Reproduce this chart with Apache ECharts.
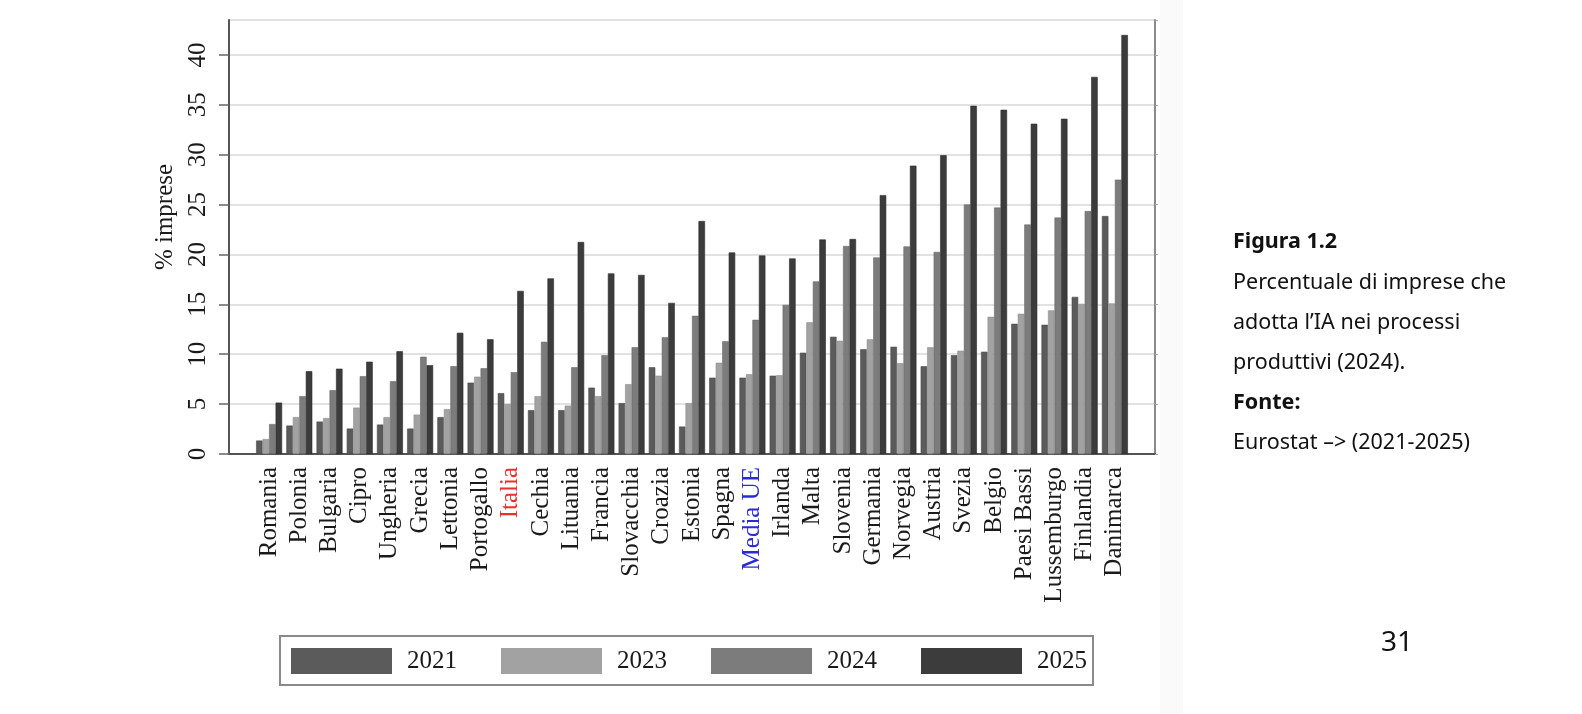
<!DOCTYPE html>
<html>
<head>
<meta charset="utf-8">
<script src="https://cdn.jsdelivr.net/npm/echarts@6/dist/echarts.min.js"></script>
<style>
  html, body { margin: 0; padding: 0; background: #ffffff; }
  #chart { width: 1582px; height: 714px; }
</style>
</head>
<body>
<div id="chart"></div>
<script>
// ---- Data ----
const countries = ['Romania','Polonia','Bulgaria','Cipro','Ungheria','Grecia','Lettonia','Portogallo','Italia','Cechia','Lituania','Francia','Slovacchia','Croazia','Estonia','Spagna','Media UE','Irlanda','Malta','Slovenia','Germania','Norvegia','Austria','Svezia','Belgio','Paesi Bassi','Lussemburgo','Finlandia','Danimarca'];
const years = ['2021', '2023', '2024', '2025'];
const v2021 = [1.35, 2.85, 3.25, 2.55, 2.95, 2.55, 3.7, 7.15, 6.1, 4.4, 4.4, 6.65, 5.1, 8.7, 2.75, 7.65, 7.65, 7.85, 10.15, 11.75, 10.5, 10.75, 8.8, 9.9, 10.25, 13.05, 12.95, 15.75, 23.85];
const v2023 = [1.5, 3.7, 3.6, 4.65, 3.7, 3.95, 4.5, 7.75, 5.0, 5.8, 4.85, 5.8, 7.0, 7.85, 5.1, 9.15, 8.0, 7.9, 13.2, 11.35, 11.5, 9.1, 10.7, 10.35, 13.75, 14.05, 14.4, 15.05, 15.1];
const v2024 = [3.0, 5.8, 6.4, 7.8, 7.3, 9.75, 8.8, 8.6, 8.2, 11.25, 8.7, 9.9, 10.7, 11.7, 13.85, 11.3, 13.45, 14.95, 17.3, 20.85, 19.7, 20.8, 20.25, 25.0, 24.7, 23.0, 23.7, 24.35, 27.5];
const v2025 = [5.15, 8.3, 8.55, 9.25, 10.3, 8.9, 12.15, 11.5, 16.35, 17.6, 21.25, 18.1, 17.95, 15.15, 23.35, 20.2, 19.9, 19.6, 21.5, 21.55, 25.95, 28.9, 29.95, 34.9, 34.5, 33.1, 33.6, 37.8, 42.0];
const yTicks = { min: 0, max: 43.5, interval: 5 };
const yName = '% imprese';
const sideTitle = 'Figura 1.2';
const sideLines = ['Percentuale di imprese che', 'adotta l\u2019IA nei processi', 'produttivi (2024).'];
const sourceTitle = 'Fonte:';
const sourceText = 'Eurostat \u2013> (2021-2025)';
const pageNumber = '31';

const seriesValues = [v2021, v2023, v2024, v2025];
const seriesColors = ['#5b5b5b', '#a2a2a2', '#7c7c7c', '#3c3c3c'];
const borderColors = ['#4a4a4a', '#8e8e8e', '#696969', '#2c2c2c'];
const serif = '"Liberation Serif", "Times New Roman", serif';
const sans = '"Noto Sans", "Open Sans", sans-serif';

const chart = echarts.init(document.getElementById('chart'), null, { renderer: 'canvas' });

const series = years.map((y, i) => ({
  name: y,
  type: 'bar',
  xAxisIndex: 1,
  yAxisIndex: 2,
  data: seriesValues[i],
  barGap: '0%',
  barCategoryGap: '14%',
  itemStyle: { color: seriesColors[i], borderColor: borderColors[i], borderWidth: 0.6 },
  emphasis: { disabled: true },
  animation: false
}));

const option = {
  backgroundColor: '#ffffff',
  animation: false,
  textStyle: { fontFamily: serif },
  grid: [
    { left: 229, right: 427, top: 20, bottom: 260, containLabel: false },
    { left: 254, right: 452, top: 20, bottom: 260, containLabel: false }
  ],
  xAxis: [
    { gridIndex: 0, type: 'value', min: 0, max: 1,
      axisLine: { show: true, lineStyle: { color: '#555555', width: 2 } },
      axisTick: { show: false }, axisLabel: { show: false }, splitLine: { show: false } },
    { gridIndex: 1, type: 'category', data: countries,
      axisLine: { show: false }, axisTick: { show: false },
      axisLabel: {
        interval: 0, hideOverlap: false,
        rotate: 90, margin: 13, fontSize: 25, fontFamily: serif,
        color: (val) => val === 'Italia' ? '#e8302c' : (val === 'Media UE' ? '#2a2ad6' : '#1a1a1a')
      } }
  ],
  yAxis: [
    { gridIndex: 0, type: 'value', min: yTicks.min, max: yTicks.max, interval: yTicks.interval,
      name: yName, nameLocation: 'middle', nameGap: 47,
      nameTextStyle: { fontSize: 25, fontFamily: serif, color: '#1a1a1a', padding: [0, 0, 0, 40] },
      axisLine: { show: true, lineStyle: { color: '#555555', width: 2 } },
      axisTick: { show: true, length: 10, lineStyle: { color: '#666666', width: 1.5 } },
      axisLabel: { rotate: 90, margin: 18, fontSize: 25, fontFamily: serif, color: '#1a1a1a', showMaxLabel: false },
      splitLine: { show: true, lineStyle: { color: '#e2e2e2', width: 2 } } },
    { gridIndex: 0, type: 'value', position: 'right', min: yTicks.min, max: yTicks.max, interval: yTicks.interval,
      axisLine: { show: true, lineStyle: { color: '#8a8a8a', width: 2 } },
      axisTick: { show: true, length: 3, lineStyle: { color: '#aaaaaa', width: 1 } },
      axisLabel: { show: false }, splitLine: { show: false } },
    { gridIndex: 1, type: 'value', min: yTicks.min, max: yTicks.max, interval: yTicks.interval, show: false }
  ],
  legend: {
    show: true,
    data: years,
    orient: 'horizontal',
    left: 280, top: 636,
    padding: [12, 6, 11, 11],
    itemWidth: 101, itemHeight: 26, itemGap: 44,
    icon: 'rect',
    borderColor: '#8a8a8a', borderWidth: 2,
    itemStyle: { borderWidth: 0 },
    textStyle: { fontSize: 25, fontFamily: serif, color: '#1a1a1a', padding: [0, 0, 0, 10] },
    selectedMode: false
  },
  graphic: [
    { type: 'rect', shape: { x: 1160, y: 0, width: 23, height: 714 }, style: { fill: '#fafafa' }, silent: true, z: -10 },
    { type: 'text', left: 1233, top: 231, style: { text: sideTitle, font: 'bold 21.5px ' + sans, fill: '#111111' } },
    { type: 'text', left: 1233, top: 272, style: { text: sideLines[0], font: '21.5px ' + sans, fill: '#111111' } },
    { type: 'text', left: 1233, top: 312, style: { text: sideLines[1], font: '21.5px ' + sans, fill: '#111111' } },
    { type: 'text', left: 1233, top: 352, style: { text: sideLines[2], font: '21.5px ' + sans, fill: '#111111' } },
    { type: 'text', left: 1233, top: 392, style: { text: sourceTitle, font: 'bold 21.5px ' + sans, fill: '#111111' } },
    { type: 'text', left: 1233, top: 432, style: { text: sourceText, font: '21.5px ' + sans, fill: '#111111' } },
    { type: 'text', left: 1381, top: 629, style: { text: pageNumber, font: '28px ' + sans, fill: '#111111' } }
  ],
  series: series
};

chart.setOption(option);
</script>
</body>
</html>
